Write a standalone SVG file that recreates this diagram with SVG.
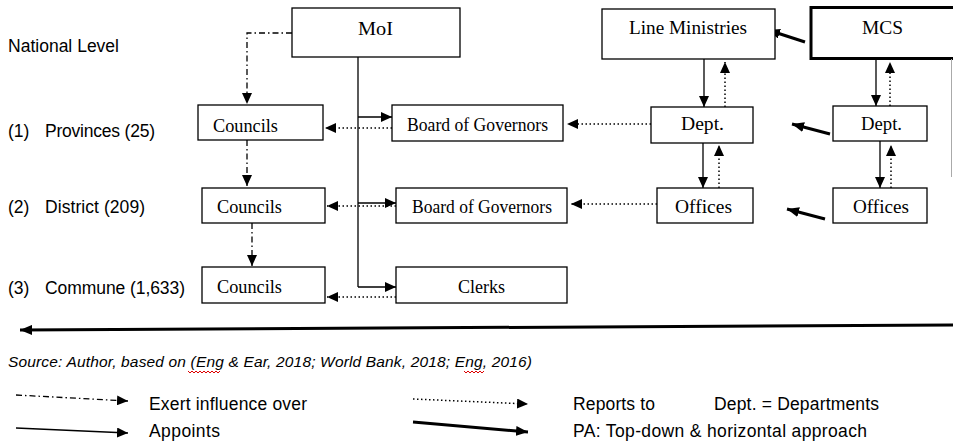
<svg xmlns="http://www.w3.org/2000/svg" width="953" height="445" viewBox="0 0 953 445">
<style>
  .box{fill:#fff;stroke:#000;stroke-width:1.3}
  .thickbox{fill:#fff;stroke:#000;stroke-width:3}
  .bt{font-family:"Liberation Serif","Times New Roman",serif;font-size:18px;fill:#000}
  .lt{font-family:"Liberation Sans",Arial,sans-serif;font-size:17.5px;fill:#000}
  .src{font-family:"Liberation Sans",Arial,sans-serif;font-size:15.5px;font-style:italic;fill:#000}
  .app{fill:none;stroke:#000;stroke-width:1.3;marker-end:url(#ah)}
  .line{fill:none;stroke:#000;stroke-width:1.3}
  .rep{fill:none;stroke:#000;stroke-width:1.5;stroke-dasharray:1.5 2.5;marker-end:url(#ah)}
  .inf{fill:none;stroke:#000;stroke-width:1.3;stroke-dasharray:6 3 1.5 3;marker-end:url(#ah)}
  .pa{fill:none;stroke:#000;stroke-width:3;marker-end:url(#ahb)}
  .sq{fill:none;stroke:#d00;stroke-width:1}
</style>
<defs>
  <marker id="ah" markerUnits="userSpaceOnUse" markerWidth="11" markerHeight="10" refX="11" refY="5" orient="auto">
    <path d="M0,0 L11,5 L0,10 z" fill="#000"/>
  </marker>
  <marker id="ahb" markerUnits="userSpaceOnUse" markerWidth="13" markerHeight="10" refX="12" refY="5" orient="auto">
    <path d="M0,0 L12,5 L0,10 z" fill="#000"/>
  </marker>
</defs>
<rect width="953" height="445" fill="#fff"/>

<g id="level-labels">
  <text class="lt" x="8" y="52" textLength="111">National Level</text>
  <text class="lt" x="8" y="137" font-size="15">(1)</text>
  <text class="lt" x="45" y="137" textLength="110">Provinces (25)</text>
  <text class="lt" x="8" y="213">(2)</text>
  <text class="lt" x="45" y="213" textLength="100">District (209)</text>
  <text class="lt" x="8" y="294">(3)</text>
  <text class="lt" x="45" y="294" textLength="140">Commune (1,633)</text>
</g>

<g id="connectors">
  <path class="line" d="M358,57 V287"/>
  <path class="app" d="M358,117 H392"/>
  <path class="app" d="M358,203 H396"/>
  <path class="app" d="M358,287 H396"/>
  <path class="app" d="M704,59 V107"/>
  <path class="app" d="M876,59 V106"/>
  <path class="app" d="M703,143 V188"/>
  <path class="app" d="M880,141 V188"/>
  <path class="rep" d="M725,107 V62"/>
  <path class="rep" d="M890,106 V62"/>
  <path class="rep" d="M719,188 V145"/>
  <path class="rep" d="M891,188 V145"/>
  <path class="rep" d="M651,124 H567"/>
  <path class="rep" d="M657,204 H571"/>
  <path class="rep" d="M392,128 H325"/>
  <path class="rep" d="M396,206 H327"/>
  <path class="rep" d="M396,297 H327"/>
  <path class="inf" d="M292,33 H247 V104"/>
  <path class="inf" d="M247,140 V186"/>
  <path class="inf" d="M252,223 V266"/>
  <path class="pa" d="M805,42 L768,30"/>
  <path class="pa" d="M830,134 L792,124"/>
  <path class="pa" d="M825,219 L787,209"/>
  <path class="pa" d="M953,325 L20,330"/>
</g>

<g id="moi"><rect class="box" x="292" y="8" width="168" height="49"/><text class="bt" x="375.5" y="34.5" text-anchor="middle" textLength="35" lengthAdjust="spacingAndGlyphs">MoI</text></g>
<g id="line-ministries"><rect class="box" x="602" y="9" width="173" height="50"/><text class="bt" x="688" y="34" text-anchor="middle" textLength="118" lengthAdjust="spacingAndGlyphs">Line Ministries</text></g>
<g id="mcs"><rect class="thickbox" x="811" y="7.5" width="160" height="51"/><text class="bt" x="882.5" y="34" text-anchor="middle" textLength="41" lengthAdjust="spacingAndGlyphs">MCS</text><path d="M951.5,59 V177" stroke="#aaa" stroke-width="1"/></g>

<g id="councils-province"><rect class="box" x="198" y="105" width="125" height="35"/><text class="bt" x="213" y="132" textLength="65" lengthAdjust="spacingAndGlyphs">Councils</text></g>
<g id="board-province"><rect class="box" x="392" y="105" width="171" height="36"/><text class="bt" x="477.5" y="131" text-anchor="middle" textLength="141" lengthAdjust="spacingAndGlyphs">Board of Governors</text></g>
<g id="dept-line"><rect class="box" x="651" y="107" width="102" height="36"/><text class="bt" x="702.5" y="130" text-anchor="middle" textLength="43" lengthAdjust="spacingAndGlyphs">Dept.</text></g>
<g id="dept-mcs"><rect class="box" x="833" y="106" width="94" height="35"/><text class="bt" x="881.5" y="130" text-anchor="middle" textLength="41" lengthAdjust="spacingAndGlyphs">Dept.</text></g>

<g id="councils-district"><rect class="box" x="202" y="188" width="123" height="35"/><text class="bt" x="217" y="213" textLength="65" lengthAdjust="spacingAndGlyphs">Councils</text></g>
<g id="board-district"><rect class="box" x="396" y="188" width="171" height="35"/><text class="bt" x="482" y="213" text-anchor="middle" textLength="140" lengthAdjust="spacingAndGlyphs">Board of Governors</text></g>
<g id="offices-line"><rect class="box" x="657" y="188" width="96" height="35"/><text class="bt" x="703.5" y="213" text-anchor="middle" textLength="57" lengthAdjust="spacingAndGlyphs">Offices</text></g>
<g id="offices-mcs"><rect class="box" x="833" y="188" width="94" height="35"/><text class="bt" x="881" y="213" text-anchor="middle" textLength="56" lengthAdjust="spacingAndGlyphs">Offices</text></g>

<g id="councils-commune"><rect class="box" x="202" y="267" width="123" height="36"/><text class="bt" x="217" y="293" textLength="65" lengthAdjust="spacingAndGlyphs">Councils</text></g>
<g id="clerks"><rect class="box" x="396" y="267" width="171" height="36"/><text class="bt" x="481.5" y="293" text-anchor="middle" textLength="47" lengthAdjust="spacingAndGlyphs">Clerks</text></g>

<g id="source">
  <text class="src" x="8" y="367" textLength="524">Source: Author, based on (Eng &amp; Ear, 2018; World Bank, 2018; Eng, 2016)</text>
  <path class="sq" d="M188,371 l2,2 l2,-2 l2,2 l2,-2 l2,2 l2,-2 l2,2 l2,-2 l2,2 l2,-2 l2,2 l2,-2 l2,2 l2,-2 l2,2 l2,-2"/>
  <path class="sq" d="M464,371 l2,2 l2,-2 l2,2 l2,-2 l2,2 l2,-2 l2,2 l2,-2 l2,2 l2,-2"/>
</g>

<g id="legend">
  <path class="inf" d="M16,395 L128,401"/>
  <text class="lt" x="149" y="410" textLength="158">Exert influence over</text>
  <path class="app" d="M16,428 L128,433"/>
  <text class="lt" x="149" y="437" textLength="71">Appoints</text>
  <path class="rep" d="M413,399 L528,404"/>
  <text class="lt" x="573" y="410" textLength="82">Reports to</text>
  <text class="lt" x="714" y="410" textLength="165">Dept. = Departments</text>
  <path class="pa" d="M413,422 L528,432"/>
  <text class="lt" x="573" y="437" textLength="294">PA: Top-down &amp; horizontal approach</text>
</g>
</svg>
